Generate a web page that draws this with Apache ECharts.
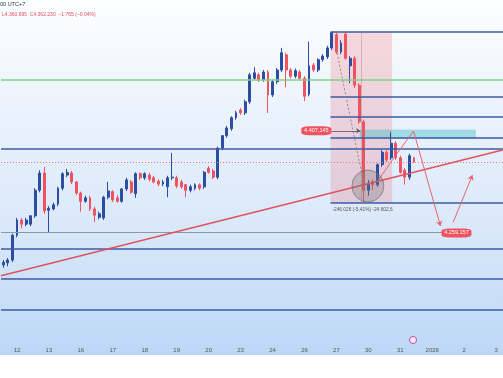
<!DOCTYPE html>
<html>
<head>
<meta charset="utf-8">
<script src="https://cdn.jsdelivr.net/npm/echarts@6/dist/echarts.min.js"></script>
<style>
    html, body { margin: 0; padding: 0; background: #fff; }
    #chart { width: 503px; height: 378px; }
</style>
</head>
<body>
<div id="chart"></div>
<script>
// day labels, one every 7 bars starting at bar 3
const dayLabels = ["12", "13", "16", "17", "18", "19", "20", "23", "24", "26", "27", "30", "31", "2026", "2", "3"];

// [open, close, low, high]
const candles = [
    [4213, 4217, 4209, 4220], [4216, 4220, 4211, 4223], [4220, 4256, 4217, 4258], [4256, 4278, 4253, 4281],
    [4278, 4272, 4266, 4281], [4272, 4278, 4269, 4281], [4272, 4284, 4269, 4285], [4284, 4321, 4281, 4324],
    [4321, 4346, 4318, 4350], [4346, 4291, 4287, 4355], [4292, 4295, 4259, 4298], [4294, 4300, 4292, 4303],
    [4301, 4324, 4298, 4326], [4324, 4345, 4321, 4347], [4343, 4347, 4340, 4352], [4346, 4333, 4330, 4349],
    [4333, 4317, 4314, 4334], [4317, 4305, 4290, 4319], [4305, 4310, 4303, 4313], [4310, 4294, 4291, 4313],
    [4294, 4285, 4275, 4297], [4282, 4287, 4279, 4290], [4281, 4311, 4278, 4313], [4311, 4320, 4308, 4333],
    [4319, 4307, 4304, 4321], [4310, 4305, 4303, 4314], [4305, 4323, 4303, 4324], [4323, 4336, 4320, 4339],
    [4333, 4318, 4316, 4336], [4316, 4345, 4310, 4347], [4345, 4339, 4336, 4347], [4339, 4345, 4336, 4347],
    [4343, 4337, 4334, 4346], [4339, 4333, 4331, 4342], [4334, 4330, 4327, 4337], [4330, 4333, 4327, 4336],
    [4326, 4339, 4311, 4342], [4339, 4340, 4336, 4375], [4339, 4327, 4324, 4342], [4333, 4326, 4323, 4336],
    [4329, 4321, 4311, 4330], [4321, 4326, 4318, 4329], [4324, 4329, 4321, 4331], [4329, 4324, 4321, 4331],
    [4326, 4347, 4323, 4349], [4353, 4347, 4345, 4356], [4349, 4340, 4337, 4352], [4340, 4382, 4337, 4384],
    [4382, 4400, 4379, 4401], [4400, 4411, 4397, 4414], [4410, 4426, 4407, 4428], [4426, 4433, 4423, 4436],
    [4437, 4433, 4430, 4440], [4433, 4449, 4430, 4452], [4449, 4488, 4446, 4491], [4483, 4491, 4481, 4499],
    [4488, 4481, 4478, 4491], [4481, 4492, 4478, 4495], [4492, 4459, 4433, 4495], [4459, 4478, 4456, 4481],
    [4478, 4495, 4475, 4498], [4495, 4520, 4492, 4527], [4517, 4495, 4470, 4520], [4495, 4486, 4483, 4498],
    [4486, 4494, 4483, 4497], [4492, 4483, 4481, 4495], [4483, 4457, 4450, 4486], [4460, 4501, 4457, 4536],
    [4502, 4495, 4492, 4505], [4495, 4510, 4492, 4512], [4510, 4515, 4507, 4518], [4514, 4527, 4511, 4530],
    [4527, 4549, 4524, 4550], [4546, 4521, 4518, 4549], [4521, 4534, 4518, 4538], [4547, 4512, 4510, 4550],
    [4501, 4512, 4476, 4515], [4512, 4473, 4469, 4515], [4473, 4420, 4417, 4476], [4420, 4321, 4304, 4423],
    [4321, 4331, 4313, 4336], [4334, 4329, 4321, 4337], [4329, 4358, 4326, 4360], [4358, 4376, 4355, 4379],
    [4376, 4365, 4362, 4379], [4368, 4389, 4365, 4405], [4389, 4368, 4365, 4392], [4368, 4347, 4345, 4371],
    [4350, 4340, 4329, 4353], [4340, 4371, 4336, 4374], [4368, 4362.2, 4360.7, 4369]
];

// drawn levels (price)
const fullLines = [4380.7, 4237, 4192.6, 4147.8];
const boxLines = [4550, 4456, 4427, 4396.6, 4302.6];
const greenLine = 4481.6;
const supportLine = 4260.6;
const lastPrice = 4361.6;
// trend line: [bar, price] start and end
const trendLine = [[-0.5, 4197.3], [109.4, 4379.3]];
// range box: startBar, endBar, high, low
const rangeBox = [71.7, 85.2, 4550, 4302.6];
// teal zone: startBar, endBar, top, bottom
const zoneBox = [78.2, 103.4, 4408, 4396.6];
// projected path [bar, price]
const pathPoints = [[81.9, 4333], [86.2, 4373.5], [89.9, 4406.7], [95.8, 4269.3]];
const bouncePoints = [[98.6, 4275], [102.8, 4343]];
const rangeArrow = [[72.8, 4531], [79.3, 4321]];
const labelHigh = [68.6, 4407.1, "4.407,145"];
const labelLow = [99.3, 4259.2, "4.259,157"];

const slotCount = 110;
const upColor = "#2b4ea2";
const downColor = "#ef5360";
const levelColor = "#3b5ba5";

let names = [];
for (let i = 0; i < slotCount; i++) {
    names.push("b" + i);
}

function isLabelSlot(index) {
    return index >= 3 && (index - 3) % 7 === 0;
}

function hLine(from, to, p, style) {
    return [{ coord: [from, p], lineStyle: style }, { coord: [to, p] }];
}

let lines = [];
fullLines.forEach(function (p) {
    lines.push(hLine(-0.5, 109.5, p, { color: levelColor, width: 1.5, type: "solid" }));
});
boxLines.forEach(function (p) {
    lines.push(hLine(rangeBox[0], 109.5, p, { color: levelColor, width: 1.5, type: "solid" }));
});
lines.push(hLine(-0.5, 109.5, greenLine, { color: "#7fd084", width: 1.6, type: "solid" }));
lines.push(hLine(-0.5, 96.5, supportLine, { color: "#8b97a3", width: 1, type: "solid" }));
lines.push(hLine(-0.5, 109.5, lastPrice, { color: "#f07a84", width: 1, type: [1, 2] }));
lines.push([
    { coord: [78.5, rangeBox[2]], lineStyle: { color: "rgba(170,110,120,0.35)", width: 1, type: "solid" } },
    { coord: [78.5, rangeBox[3]] }
]);

let overLines = [];
overLines.push([
    { coord: trendLine[0], lineStyle: { color: "#e0535e", width: 1.5, type: "solid" } },
    { coord: trendLine[1] }
]);
overLines.push([
    { coord: rangeArrow[0], lineStyle: { color: "#8a8a8a", width: 1, type: [2, 2] } },
    { coord: rangeArrow[1] }
]);
for (let i = 0; i < pathPoints.length - 1; i++) {
    let last = i === pathPoints.length - 2;
    overLines.push([
        { coord: pathPoints[i], lineStyle: { color: "#e8646e", width: 1, type: "solid" } },
        { coord: pathPoints[i + 1], symbol: last ? "arrow" : "none", symbolSize: 5 }
    ]);
}
overLines.push([
    { coord: bouncePoints[0], lineStyle: { color: "#e8646e", width: 1, type: "solid" } },
    { coord: bouncePoints[1], symbol: "arrow", symbolSize: 5 }
]);
overLines.push([
    { coord: [71.9, labelHigh[1]], lineStyle: { color: "#555", width: 0.8, type: "solid" } },
    { coord: [78.2, labelHigh[1]], symbol: "arrow", symbolSize: 4 }
]);

let chart = echarts.init(document.getElementById("chart"));
chart.setOption({
    animation: false,
    graphic: [
        {
            type: "rect", z: -10, silent: true,
            shape: { x: 0, y: 0, width: 503, height: 355 },
            style: {
                fill: {
                    type: "linear", x: 0, y: 0, x2: 0, y2: 1,
                    colorStops: [
                        { offset: 0, color: "#fdfeff" },
                        { offset: 0.3, color: "#ecf3fc" },
                        { offset: 0.65, color: "#d9e8fa" },
                        { offset: 1, color: "#bcd7f6" }
                    ]
                }
            }
        },
        {
            type: "text", left: 0, top: 1, silent: true,
            style: { text: "00 UTC+7", fontSize: 5.5, fill: "#333", fontFamily: "Liberation Sans" }
        },
        {
            type: "text", left: 2, top: 12, silent: true,
            style: { text: "L4.360.695  C4.362.230  \u22121.765 (\u22120.04%)", fontSize: 5, fill: "#e0505e", fontFamily: "Liberation Sans" }
        },
        {
            type: "circle", silent: true,
            shape: { cx: 413, cy: 340, r: 3.6 },
            style: { fill: "#f6e2f2", stroke: "#c454ad", lineWidth: 1 }
        }
    ],
    grid: { left: 1, top: 0, width: 506, height: 337 },
    xAxis: [
        {
            type: "category",
            data: names,
            boundaryGap: true,
            axisLine: { show: false },
            axisTick: { show: false },
            splitLine: { show: false },
            axisLabel: {
                interval: function (index) {
                    return isLabelSlot(index);
                },
                formatter: function (value, index) {
                    return isLabelSlot(index) ? dayLabels[(index - 3) / 7] : "";
                },
                fontSize: 6,
                color: "#555",
                margin: 10,
                fontFamily: "Liberation Sans"
            }
        },
        { type: "value", min: -0.5, max: 109.5, show: false }
    ],
    yAxis: { type: "value", min: 4108.7, max: 4596.3, show: false },
    series: [
        {
            type: "line",
            xAxisIndex: 1,
            data: [],
            z: 1,
            markArea: {
                silent: true,
                data: [
                    [
                        { coord: [rangeBox[0], rangeBox[2]], itemStyle: { color: "rgba(240,80,95,0.2)" } },
                        { coord: [rangeBox[1], rangeBox[3]] }
                    ],
                    [
                        { coord: [zoneBox[0], zoneBox[2]], itemStyle: { color: "rgba(70,195,200,0.45)", borderColor: "rgba(60,170,175,0.6)", borderWidth: 0.5 } },
                        { coord: [zoneBox[1], zoneBox[3]] }
                    ]
                ]
            },
            markLine: {
                silent: true,
                symbol: ["none", "none"],
                label: { show: false },
                data: lines
            }
        },
        {
            type: "candlestick",
            data: candles,
            barWidth: 2.4,
            z: 2,
            itemStyle: {
                color: upColor,
                color0: downColor,
                borderColor: upColor,
                borderColor0: downColor,
                borderWidth: 1
            }
        },
        {
            type: "line",
            xAxisIndex: 1,
            data: [],
            z: 3,
            markLine: {
                silent: true,
                symbol: ["none", "none"],
                label: { show: false },
                data: overLines
            },
            markPoint: {
                silent: true,
                data: [
                    {
                        coord: [79.9, 4327.2], symbol: "circle", symbolSize: 32,
                        itemStyle: { color: "rgba(120,120,120,0.33)", borderColor: "rgba(90,90,90,0.55)", borderWidth: 1 },
                        label: { show: false }
                    },
                    {
                        coord: [labelHigh[0], labelHigh[1]], symbol: "roundRect", symbolSize: [30, 9],
                        itemStyle: { color: downColor },
                        label: { show: true, position: "inside", formatter: labelHigh[2], fontSize: 5.5, color: "#fff", fontFamily: "Liberation Sans" }
                    },
                    {
                        coord: [labelLow[0], labelLow[1]], symbol: "roundRect", symbolSize: [30, 9],
                        itemStyle: { color: downColor },
                        label: { show: true, position: "inside", formatter: labelLow[2], fontSize: 5.5, color: "#fff", fontFamily: "Liberation Sans" }
                    },
                    {
                        coord: [72.0, 4292.4], symbol: "rect", symbolSize: 1,
                        itemStyle: { color: "rgba(0,0,0,0)" },
                        label: { show: true, position: "right", distance: 0, formatter: "-246.026 (-5,41%) -24.602,6", fontSize: 4.8, color: "#555", fontFamily: "Liberation Sans" }
                    }
                ]
            }
        }
    ]
});
window.addEventListener("resize", function () {
    chart.resize();
});
</script>
</body>
</html>
